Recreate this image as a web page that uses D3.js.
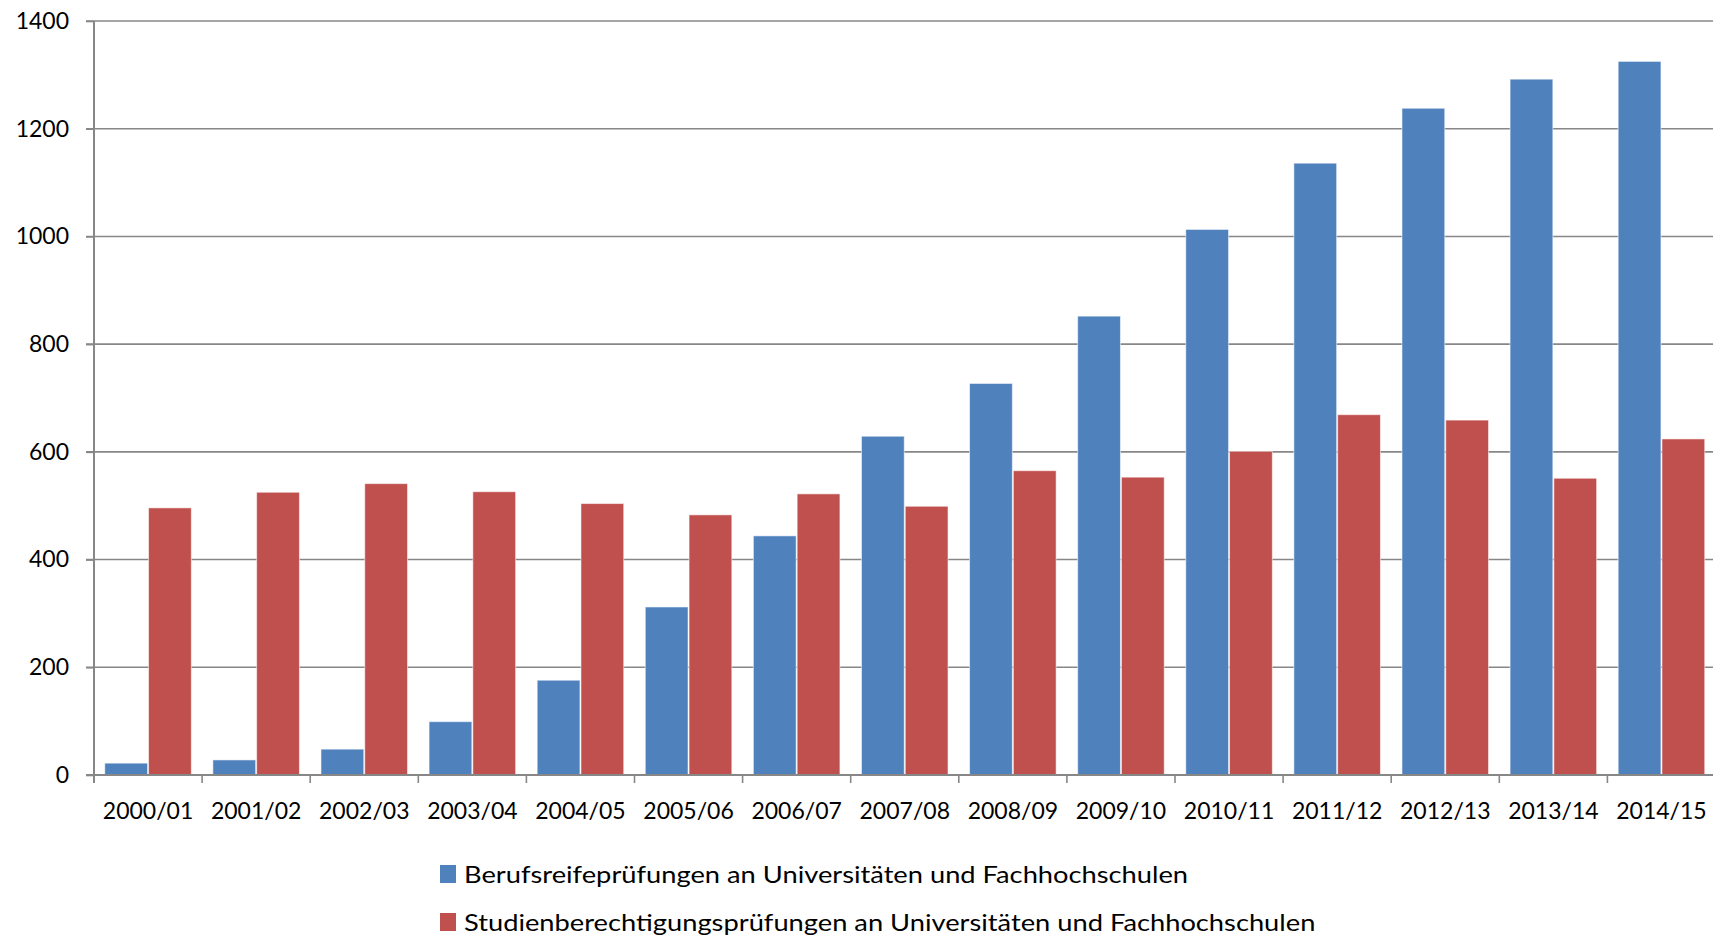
<!DOCTYPE html>
<html lang="de">
<head>
<meta charset="utf-8">
<title>Berufsreife- und Studienberechtigungsprüfungen</title>
<script src="https://cdn.jsdelivr.net/npm/d3@7"></script>
<style>
  html, body { margin: 0; padding: 0; background: #ffffff; }
  svg { display: block; font-family: Lato, "Open Sans", sans-serif; }
</style>
</head>
<body>
<svg id="chart" width="1713" height="936"></svg>
<script>
// Studienjahre
const years = ["2000/01","2001/02","2002/03","2003/04","2004/05","2005/06","2006/07",
               "2007/08","2008/09","2009/10","2010/11","2011/12","2012/13","2013/14","2014/15"];

// Berufsreifeprüfungen an Universitäten und Fachhochschulen
const berufsreife = [22, 28, 48, 99, 176, 312, 444, 629, 727, 852, 1013, 1136, 1238, 1292, 1325];

// Studienberechtigungsprüfungen an Universitäten und Fachhochschulen
const studienberechtigung = [496, 525, 541, 526, 504, 483, 522, 499, 565, 553, 601, 669, 659, 551, 624];

const seriesNames = [
  "Berufsreifeprüfungen an Universitäten und Fachhochschulen",
  "Studienberechtigungsprüfungen an Universitäten und Fachhochschulen"
];
const seriesColors = ["#4f81bd", "#c0504d"];
const yTicks = [0, 200, 400, 600, 800, 1000, 1200, 1400];

const svg = d3.select("#chart");
const plotLeft = 94, plotTop = 21, plotBottom = 775;
const band = 108.1;
const plotRight = plotLeft + band * years.length;

const x = d3.scaleBand().domain(years).range([plotLeft, plotRight]).padding(0);
const x1 = d3.scaleBand().domain([0, 1])
  .range([x.bandwidth() * 0.095, x.bandwidth() * 0.905]).padding(0);
const y = d3.scaleLinear().domain([0, 1400]).range([plotBottom, plotTop]);

const gridColor = "#878787";

// horizontal gridlines with short ticks to the left of the axis
const grid = svg.append("g");
grid.selectAll("line").data(yTicks.filter(d => d > 0)).join("line")
  .attr("x1", plotLeft - 8).attr("x2", 1713)
  .attr("y1", d => y(d)).attr("y2", d => y(d))
  .attr("stroke", gridColor).attr("stroke-width", 1.6);

// bars
const rows = years.map((yr, i) => ({ yr, vals: [berufsreife[i], studienberechtigung[i]] }));
const groups = svg.append("g").selectAll("g").data(rows).join("g")
  .attr("transform", d => `translate(${x(d.yr)},0)`);
groups.selectAll("rect").data(d => d.vals.map((v, k) => ({ v, k }))).join("rect")
  .attr("x", d => x1(d.k) + 0.5)
  .attr("width", x1.bandwidth() - 1)
  .attr("y", d => y(d.v))
  .attr("height", d => y(0) - y(d.v))
  .attr("fill", d => seriesColors[d.k])
  .attr("stroke", "#ffffff").attr("stroke-opacity", 0.55).attr("stroke-width", 1);

// y axis
const yAxis = d3.axisLeft(y).tickValues(yTicks).tickFormat(d3.format("d"))
  .tickSize(8).tickPadding(17);
const gy = svg.append("g").attr("transform", `translate(${plotLeft},0)`).call(yAxis);
gy.select(".domain").remove();
gy.selectAll(".tick line").attr("stroke", gridColor).attr("stroke-width", 1.6);
gy.selectAll(".tick text").attr("fill", "#000").style("font-size", "23px")
  .style("font-family", "Lato, sans-serif");
svg.append("line").attr("x1", plotLeft).attr("x2", plotLeft)
  .attr("y1", plotTop).attr("y2", plotBottom + 8)
  .attr("stroke", gridColor).attr("stroke-width", 2);

// x axis
svg.append("line").attr("x1", plotLeft - 8).attr("x2", 1713)
  .attr("y1", plotBottom).attr("y2", plotBottom)
  .attr("stroke", gridColor).attr("stroke-width", 2);
const boundaries = years.map(yr => x(yr)).concat([plotRight]);
svg.append("g").selectAll("line").data(boundaries).join("line")
  .attr("x1", d => d).attr("x2", d => d).attr("y1", plotBottom).attr("y2", plotBottom + 8)
  .attr("stroke", gridColor).attr("stroke-width", 1.6);
svg.append("g").selectAll("text").data(years).join("text")
  .attr("x", d => x(d) + x.bandwidth() / 2)
  .attr("y", 810)
  .attr("text-anchor", "middle").attr("dominant-baseline", "central")
  .style("font-size", "23px").attr("fill", "#000")
  .text(d => d);

// legend (text set slightly wide)
const legend = svg.append("g").selectAll("g").data(seriesNames).join("g")
  .attr("transform", (d, i) => `translate(440,${874 + i * 48})`);
legend.append("rect").attr("x", 0).attr("y", -9).attr("width", 16).attr("height", 18)
  .attr("fill", (d, i) => seriesColors[i]);
legend.append("text").attr("transform", "translate(24,0) scale(1.186,1)")
  .attr("dominant-baseline", "central")
  .style("font-size", "23px").attr("fill", "#000")
  .text(d => d);
</script>
</body>
</html>
